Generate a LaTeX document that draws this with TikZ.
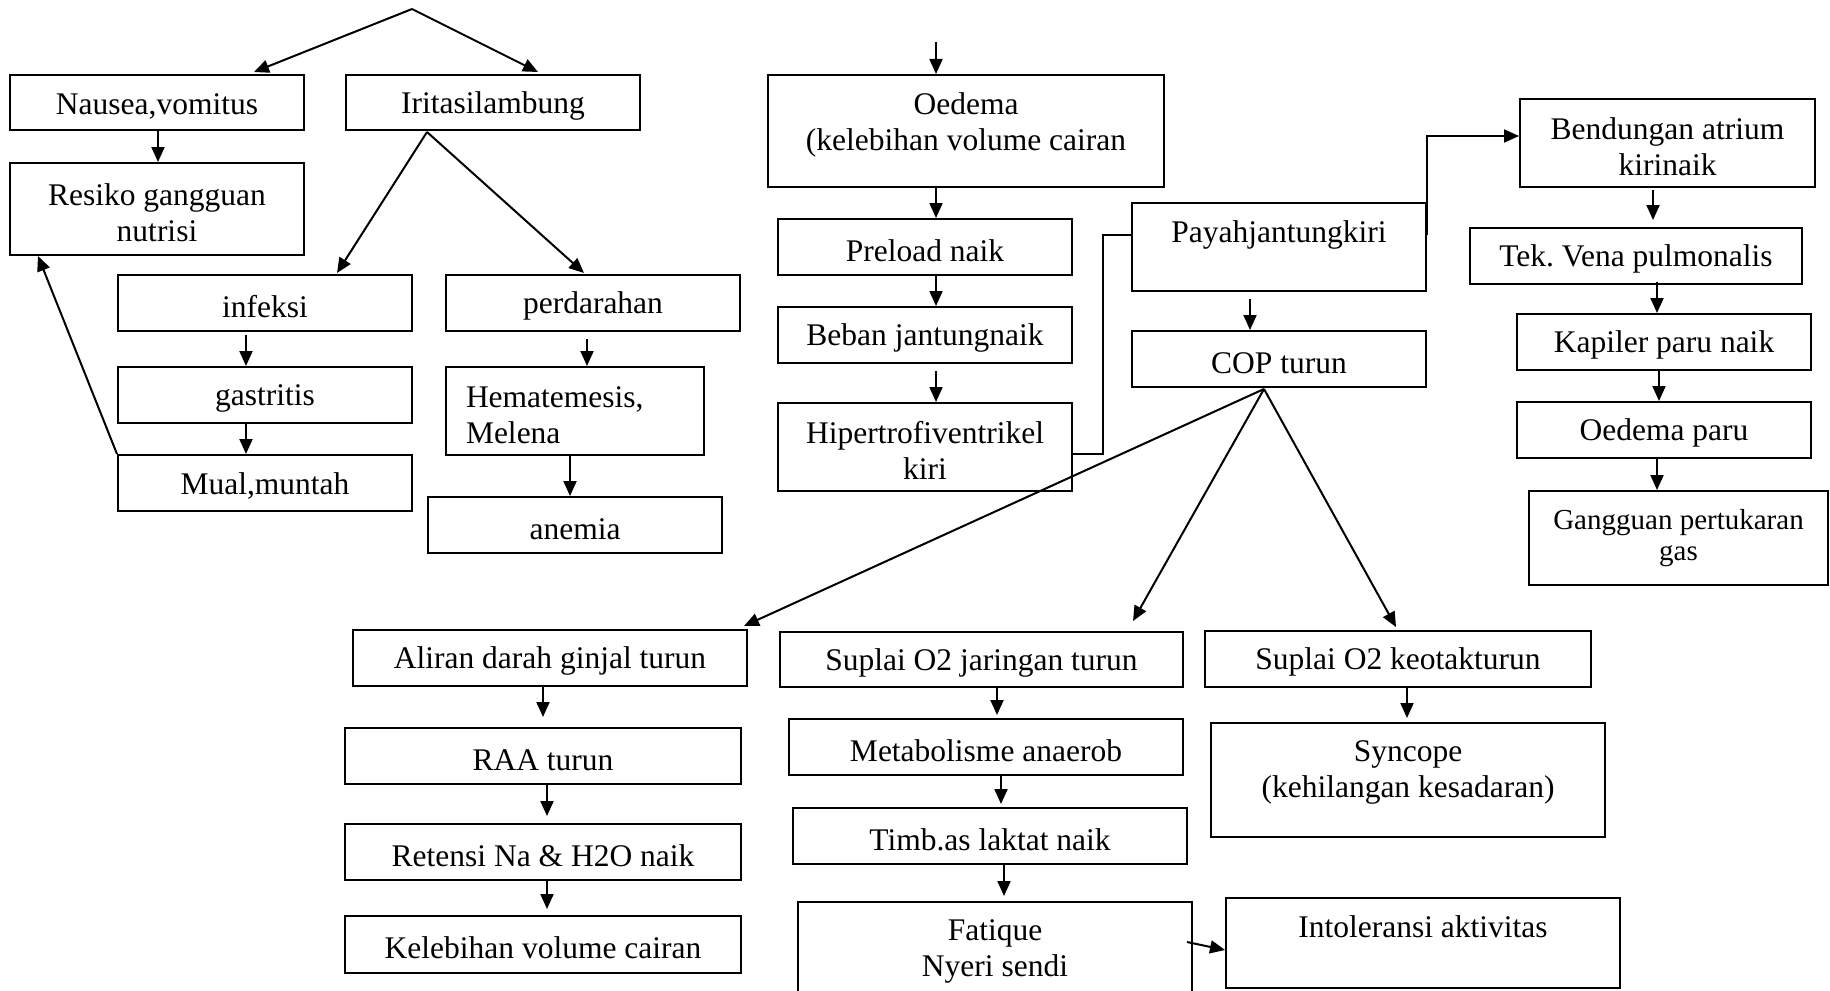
\documentclass[tikz,border=0pt]{standalone}
\usepackage{fontspec}
\setmainfont{Liberation Serif}
\usetikzlibrary{arrows.meta,calc}
\newcommand{\tallstrut}{\rule{0pt}{28.5pt}}
\begin{document}
\begin{tikzpicture}[x=1pt,y=-1pt,
  font=\fontsize{31.5}{36}\selectfont,
  box/.style={draw,line width=2pt,align=center},
  arr/.style={line width=2pt,-{Triangle[length=15pt,width=13pt]}},
  toplabel/.style={label={[anchor=north,yshift=-15.5pt,align=center]north:#1}}]
\useasboundingbox (0,0) rectangle (1830,990);
\node[box,minimum width=294pt,minimum height=55pt] (nausea) at (157,102.5) {\tallstrut Nausea,vomitus};
\node[box,minimum width=294pt,minimum height=55pt] (iritasi) at (493,102.5) {\tallstrut Iritasilambung};
\node[box,minimum width=294pt,minimum height=92pt] (resiko) at (157,209) {\tallstrut Resiko gangguan\\nutrisi};
\node[box,minimum width=294pt,minimum height=56pt] (infeksi) at (265,303) {\tallstrut infeksi};
\node[box,minimum width=294pt,minimum height=56pt] (perdarahan) at (593,303) {\tallstrut perdarahan};
\node[box,minimum width=294pt,minimum height=56pt] (gastritis) at (265,395) {\tallstrut gastritis};
\node[box,minimum width=294pt,minimum height=56pt] (mual) at (265,483) {\tallstrut Mual,muntah};
\node[box,minimum height=88pt,inner xsep=20pt,text width=218pt,align=left] (hemat) at (575,411) {\tallstrut Hematemesis,\\Melena};
\node[box,minimum width=294pt,minimum height=56pt] (anemia) at (575,525) {\tallstrut anemia};
\node[box,minimum width=396pt,minimum height=112pt,toplabel={Oedema\\(kelebihan volume cairan}] (oedema) at (966,131) {};
\node[box,minimum width=294pt,minimum height=56pt] (preload) at (925,247) {\tallstrut Preload naik};
\node[box,minimum width=294pt,minimum height=56pt] (beban) at (925,335) {\tallstrut Beban jantungnaik};
\node[box,minimum width=294pt,minimum height=88pt] (hiper) at (925,447) {\tallstrut Hipertrofiventrikel\\kiri};
\node[box,minimum width=294pt,minimum height=88pt,toplabel=Payahjantungkiri] (payah) at (1279,247) {};
\node[box,minimum width=294pt,minimum height=56pt] (cop) at (1279,359) {\tallstrut COP turun};
\node[box,minimum width=295pt,minimum height=88pt] (bendungan) at (1667.5,143) {\tallstrut Bendungan atrium\\kirinaik};
\node[box,minimum width=332pt,minimum height=56pt] (tek) at (1636,256) {\tallstrut Tek.\ Vena pulmonalis};
\node[box,minimum width=294pt,minimum height=56pt] (kapiler) at (1664,342) {\tallstrut Kapiler paru naik};
\node[box,minimum width=294pt,minimum height=56pt] (oedparu) at (1664,430) {\tallstrut Oedema paru};
\node[box,minimum width=299pt,minimum height=94pt,font=\fontsize{29}{31}\selectfont] (gangguan) at (1678.5,538) {Gangguan pertukaran\\gas};
\node[box,minimum width=394pt,minimum height=56pt] (aliran) at (550,658) {\tallstrut Aliran darah ginjal turun};
\node[box,minimum width=396pt,minimum height=56pt] (raa) at (543,756) {\tallstrut RAA turun};
\node[box,minimum width=396pt,minimum height=56pt] (retensi) at (543,852) {\tallstrut Retensi Na \& H2O naik};
\node[box,minimum width=396pt,minimum height=57pt] (kelebihan) at (543,944.5) {\tallstrut Kelebihan volume cairan};
\node[box,minimum width=403pt,minimum height=55pt] (suplaij) at (981.5,659.5) {\tallstrut Suplai O2 jaringan turun};
\node[box,minimum width=394pt,minimum height=56pt] (metab) at (986,747) {\tallstrut Metabolisme anaerob};
\node[box,minimum width=394pt,minimum height=56pt] (timb) at (990,836) {\tallstrut Timb.as laktat naik};
\node[box,minimum width=394pt,minimum height=98pt] (fatique) at (995,951) {Fatique\\Nyeri sendi};
\node[box,minimum width=386pt,minimum height=56pt] (suplaik) at (1398,659) {\tallstrut Suplai O2 keotakturun};
\node[box,minimum width=394pt,minimum height=114pt,toplabel={Syncope\\(kehilangan kesadaran)}] (syncope) at (1408,780) {};
\node[box,minimum width=394pt,minimum height=90pt,toplabel=Intoleransi aktivitas] (intol) at (1423,943) {};
\coordinate (top) at (412,9);
\coordinate (oedin) at (936,42);
\coordinate (irb) at ($(iritasi.south)+(-66,1)$);
\coordinate (copb) at ($(cop.south)+(-15,1)$);
\draw[arr] (top) -- ($(nausea.north)+(97,-2)$);
\draw[arr] (top) -- ($(iritasi.north)+(45,-2)$);
\draw[arr] (irb) -- ($(infeksi.north)+(72,-1)$);
\draw[arr] (irb) -- ($(perdarahan.north)+(-9,-1)$);
\draw[arr] (mual.north west) -- ($(resiko.south west)+(29,0)$);
\draw[arr] (oedin) -- (oedema.north -| 936,0);
\foreach \a/\b/\x/\s/\e in {nausea/resiko/158/0/0,infeksi/gastritis/246/3/0,
  gastritis/mual/246/0/0,perdarahan/hemat/587/7/0,hemat/anemia/570/0/0,
  oedema/preload/936/0/0,preload/beban/936/0/0,beban/hiper/936/7/0,
  payah/cop/1250/7/0,bendungan/tek/1653/2/7,tek/kapiler/1657/-3/0,
  kapiler/oedparu/1659/0/0,oedparu/gangguan/1657/0/0,aliran/raa/543/0/10,
  raa/retensi/547/0/7,retensi/kelebihan/547/0/6,suplaij/metab/997/0/3,
  metab/timb/1001/0/3,timb/fatique/1004/0/5,suplaik/syncope/1407/0/4}
  \draw[arr] ($(\a.south -| \x,0)+(0,\s)$) -- ($(\b.north -| \x,0)-(0,\e)$);
\draw[line width=2pt] ($(hiper.east)+(0,7)$) -- ++(30,0) |- ($(payah.west)+(0,-12)$);
\draw[arr] ($(payah.east)+(0,-12)$) |- ($(bendungan.west)+(0,-7)$);
\draw[arr] (copb) -- ($(aliran.north east)+(-4,-3)$);
\draw[arr] (copb) -- ($(suplaij.north east)+(-51,-10)$);
\draw[arr] (copb) -- ($(suplaik.north)+(-2,-3)$);
\draw[arr] ($(fatique.east)+(-6,-9)$) -- ($(intol.west)+(0,7)$);
\end{tikzpicture}
\end{document}
